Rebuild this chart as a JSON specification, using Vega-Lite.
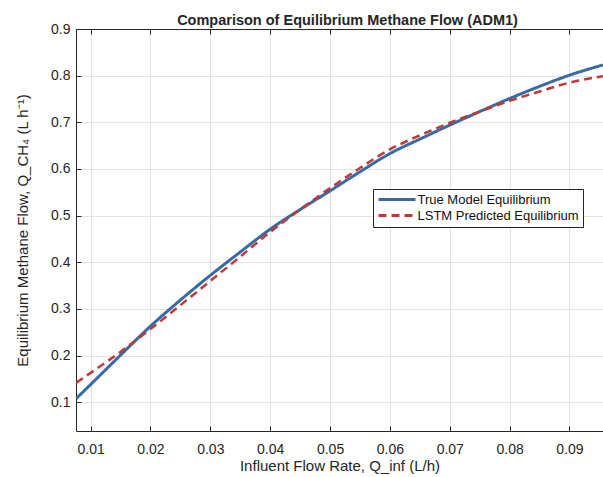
{
  "$schema": "https://vega.github.io/schema/vega-lite/v6.json",
  "width": 527,
  "height": 402,
  "autosize": {"type": "none"},
  "padding": {"left": 76, "top": 29, "right": 0, "bottom": 46},
  "background": "white",
  "title": {
    "text": "Comparison of Equilibrium Methane Flow (ADM1)",
    "font": "Liberation Sans",
    "fontSize": 14.5,
    "fontWeight": "bold",
    "color": "#262626",
    "offset": -6,
    "dx": 8
  },
  "config": {
    "view": {"stroke": null},
    "axis": {
      "labelFont": "Liberation Sans",
      "labelFontSize": 14,
      "labelColor": "#262626",
      "titleFont": "Liberation Sans",
      "titleFontSize": 15,
      "titleFontWeight": "normal",
      "titleColor": "#262626",
      "domainColor": "#262626",
      "domainWidth": 1,
      "tickColor": "#262626",
      "tickSize": -5,
      "gridColor": "#e3e3e3",
      "gridWidth": 1
    },
    "legend": {
      "orient": "none",
      "legendX": 297,
      "legendY": 160,
      "fillColor": "white",
      "strokeColor": "#262626",
      "padding": 4,
      "symbolType": "M-3.7,0H3.7",
      "symbolSize": 100,
      "symbolOffset": 13.5,
      "symbolStrokeWidth": 3,
      "labelFont": "Liberation Sans",
      "labelFontSize": 13,
      "labelColor": "#111111",
      "labelOffset": 14,
      "labelLimit": 0,
      "rowPadding": 2,
      "cornerRadius": 0
    }
  },
  "data": {
    "values": [
      {"q": 0.0076, "flow": 0.108, "series": "True Model Equilibrium"},
      {"q": 0.01, "flow": 0.138, "series": "True Model Equilibrium"},
      {"q": 0.015, "flow": 0.201, "series": "True Model Equilibrium"},
      {"q": 0.02, "flow": 0.263, "series": "True Model Equilibrium"},
      {"q": 0.025, "flow": 0.319, "series": "True Model Equilibrium"},
      {"q": 0.03, "flow": 0.372, "series": "True Model Equilibrium"},
      {"q": 0.035, "flow": 0.422, "series": "True Model Equilibrium"},
      {"q": 0.04, "flow": 0.471, "series": "True Model Equilibrium"},
      {"q": 0.045, "flow": 0.513, "series": "True Model Equilibrium"},
      {"q": 0.05, "flow": 0.553, "series": "True Model Equilibrium"},
      {"q": 0.055, "flow": 0.594, "series": "True Model Equilibrium"},
      {"q": 0.06, "flow": 0.633, "series": "True Model Equilibrium"},
      {"q": 0.065, "flow": 0.664, "series": "True Model Equilibrium"},
      {"q": 0.07, "flow": 0.694, "series": "True Model Equilibrium"},
      {"q": 0.075, "flow": 0.723, "series": "True Model Equilibrium"},
      {"q": 0.08, "flow": 0.751, "series": "True Model Equilibrium"},
      {"q": 0.085, "flow": 0.777, "series": "True Model Equilibrium"},
      {"q": 0.09, "flow": 0.801, "series": "True Model Equilibrium"},
      {"q": 0.0956, "flow": 0.823, "series": "True Model Equilibrium"},
      {"q": 0.0076, "flow": 0.142, "series": "LSTM Predicted Equilibrium"},
      {"q": 0.01, "flow": 0.163, "series": "LSTM Predicted Equilibrium"},
      {"q": 0.015, "flow": 0.208, "series": "LSTM Predicted Equilibrium"},
      {"q": 0.02, "flow": 0.257, "series": "LSTM Predicted Equilibrium"},
      {"q": 0.025, "flow": 0.308, "series": "LSTM Predicted Equilibrium"},
      {"q": 0.03, "flow": 0.36, "series": "LSTM Predicted Equilibrium"},
      {"q": 0.035, "flow": 0.412, "series": "LSTM Predicted Equilibrium"},
      {"q": 0.04, "flow": 0.465, "series": "LSTM Predicted Equilibrium"},
      {"q": 0.045, "flow": 0.513, "series": "LSTM Predicted Equilibrium"},
      {"q": 0.05, "flow": 0.559, "series": "LSTM Predicted Equilibrium"},
      {"q": 0.055, "flow": 0.602, "series": "LSTM Predicted Equilibrium"},
      {"q": 0.06, "flow": 0.642, "series": "LSTM Predicted Equilibrium"},
      {"q": 0.065, "flow": 0.672, "series": "LSTM Predicted Equilibrium"},
      {"q": 0.07, "flow": 0.699, "series": "LSTM Predicted Equilibrium"},
      {"q": 0.075, "flow": 0.723, "series": "LSTM Predicted Equilibrium"},
      {"q": 0.08, "flow": 0.746, "series": "LSTM Predicted Equilibrium"},
      {"q": 0.085, "flow": 0.766, "series": "LSTM Predicted Equilibrium"},
      {"q": 0.09, "flow": 0.785, "series": "LSTM Predicted Equilibrium"},
      {"q": 0.0956, "flow": 0.799, "series": "LSTM Predicted Equilibrium"}
    ]
  },
  "encoding": {
    "y": {
      "field": "flow",
      "type": "quantitative",
      "scale": {"domain": [0.0384, 0.9], "nice": false, "zero": false},
      "axis": {
        "title": "Equilibrium Methane Flow, Q_CH₄ (L h⁻¹)",
        "values": [0.1, 0.2, 0.3, 0.4, 0.5, 0.6, 0.7, 0.8, 0.9],
        "format": ".1f",
        "labelPadding": 11,
        "titlePadding": 20
      }
    },
    "color": {
      "field": "series",
      "type": "nominal",
      "scale": {
        "domain": ["True Model Equilibrium", "LSTM Predicted Equilibrium"],
        "range": ["#3a6aa4", "#c0393a"]
      },
      "legend": {"title": null}
    },
    "strokeDash": {
      "field": "series",
      "type": "nominal",
      "scale": {
        "domain": ["True Model Equilibrium", "LSTM Predicted Equilibrium"],
        "range": [[1, 0], [8, 5]]
      },
      "legend": {"title": null}
    }
  },
  "layer": [
    {
      "transform": [{"filter": "datum.series === 'True Model Equilibrium'"}],
      "mark": {"type": "line", "strokeWidth": 3, "clip": true, "interpolate": "monotone"},
      "encoding": {
        "x": {
          "field": "q",
          "type": "quantitative",
          "scale": {"domain": [0.00756, 0.0956], "nice": false, "zero": false},
          "axis": {
            "title": "Influent Flow Rate, Q_inf (L/h)",
            "values": [0.01, 0.02, 0.03, 0.04, 0.05, 0.06, 0.07, 0.08, 0.09],
            "format": ".2f",
            "labelPadding": 16,
            "titlePadding": 2
          }
        }
      }
    },
    {
      "transform": [{"filter": "datum.series === 'LSTM Predicted Equilibrium'"}],
      "mark": {"type": "line", "strokeWidth": 2.5, "clip": true, "interpolate": "monotone"},
      "encoding": {
        "x": {
          "field": "q",
          "type": "quantitative",
          "scale": {"domain": [0.00756, 0.0956], "nice": false, "zero": false},
          "axis": {
            "orient": "top",
            "title": null,
            "labels": false,
            "grid": false,
            "values": [0.01, 0.02, 0.03, 0.04, 0.05, 0.06, 0.07, 0.08, 0.09]
          }
        }
      }
    }
  ],
  "resolve": {"axis": {"x": "independent"}}
}
